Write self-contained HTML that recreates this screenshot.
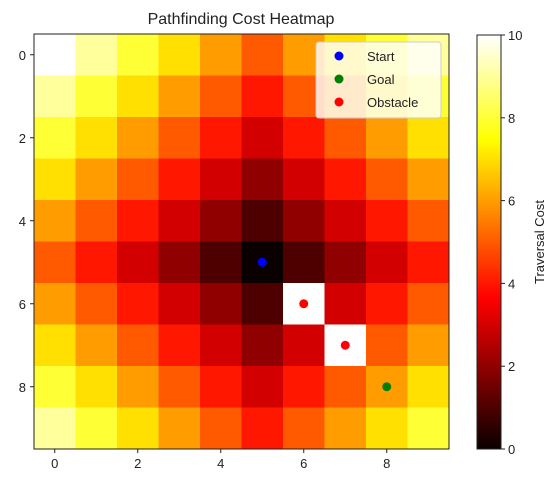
<!DOCTYPE html>
<html><head><meta charset="utf-8"><style>
body{margin:0;background:#fff;}
svg text{font-family:"Liberation Sans","DejaVu Sans",sans-serif;fill:#222;}
</style></head><body>
<svg id="chart" width="560" height="486" xmlns="http://www.w3.org/2000/svg">
<defs><linearGradient id="hotgrad" x1="0" y1="1" x2="0" y2="0">
<stop offset="0" stop-color="#0a0000"/><stop offset="0.365" stop-color="#ff0000"/><stop offset="0.746" stop-color="#ffff00"/><stop offset="1" stop-color="#ffffff"/>
</linearGradient></defs>
<text x="241" y="24" font-size="16" text-anchor="middle">Pathfinding Cost Heatmap</text>
<g id="cells"></g>
<rect x="34" y="34" width="415" height="415" fill="none" stroke="#222" stroke-width="1"/>
<g id="axes"></g>
<g id="points"></g>
<g>
<rect x="316" y="42" width="125" height="76" rx="3" fill="#fff" fill-opacity="0.8" stroke="#ccc"/>
<circle cx="339" cy="56" r="4.5" fill="#0000ff"/>
<text x="367" y="61" font-size="13">Start</text>
<circle cx="339" cy="79" r="4.5" fill="#008000"/>
<text x="367" y="84" font-size="13">Goal</text>
<circle cx="339" cy="102" r="4.5" fill="#ff0000"/>
<text x="367" y="107" font-size="13">Obstacle</text>
</g>
<rect x="477" y="35" width="24" height="414" fill="url(#hotgrad)" stroke="#222" stroke-width="1"/>
<g id="cbticks"></g>
<text transform="translate(544,242) rotate(-90)" font-size="13" text-anchor="middle">Traversal Cost</text>
</svg>
<script>
const costGrid = [
[10,9,8,7,6,5,6,7,8,9],
[9,8,7,6,5,4,5,6,7,8],
[8,7,6,5,4,3,4,5,6,7],
[7,6,5,4,3,2,3,4,5,6],
[6,5,4,3,2,1,2,3,4,5],
[5,4,3,2,1,0,1,2,3,4],
[6,5,4,3,2,1,10,3,4,5],
[7,6,5,4,3,2,3,10,5,6],
[8,7,6,5,4,3,4,5,6,7],
[9,8,7,6,5,4,5,6,7,8]
];
const startPt = [5,5];
const goalPt = [8,8];
const obstacles = [[6,6],[7,7]];
const axisTicks = [0,2,4,6,8];
const cbTicks = [0,2,4,6,8,10];
const vmin=0, vmax=10;
const X0=34, Y0=34, CELL=41.5, N=10;
const CB_TOP=35, CB_BOT=449;
const ns="http://www.w3.org/2000/svg";
function xs(c){return X0+(c+0.5)*CELL;}
function ys(r){return Y0+(r+0.5)*CELL;}
function cbY(v){return CB_BOT-(v-vmin)/(vmax-vmin)*(CB_BOT-CB_TOP);}
function hot(v){
 const t=Math.max(0,Math.min(1,(v-vmin)/(vmax-vmin)));
 const r=Math.min(1,0.0416+t/0.365079*(1-0.0416));
 const g=Math.max(0,Math.min(1,(t-0.365079)/(0.746032-0.365079)));
 const b=Math.max(0,Math.min(1,(t-0.746032)/(1-0.746032)));
 return `rgb(${Math.round(r*255)},${Math.round(g*255)},${Math.round(b*255)})`;
}
function mk(tag,attrs,parent){const e=document.createElementNS(ns,tag);for(const k in attrs)e.setAttribute(k,attrs[k]);parent.appendChild(e);return e;}
const cells=document.getElementById('cells');
costGrid.forEach((row,r)=>row.forEach((v,c)=>{
 const e=mk('rect',{x:X0+c*CELL,y:Y0+r*CELL,width:CELL+0.5,height:CELL+0.5,fill:hot(v)},cells);
 
 
}));
const axes=document.getElementById('axes');
axisTicks.forEach(t=>{
 const l1=mk('line',{x1:xs(t),x2:xs(t),y1:449,y2:453,stroke:'#222'},axes);
 
 
 const t1=mk('text',{x:xs(t),y:468,'font-size':13,'text-anchor':'middle'},axes);t1.textContent=t;
 
 
 const l2=mk('line',{x1:30,x2:34,y1:ys(t),y2:ys(t),stroke:'#222'},axes);
 
 
 const t2=mk('text',{x:26,y:ys(t)+5,'font-size':13,'text-anchor':'end'},axes);t2.textContent=t;
 
 
});
const cbt=document.getElementById('cbticks');
cbTicks.forEach(t=>{
 const l=mk('line',{x1:501,x2:505,y1:cbY(t),y2:cbY(t),stroke:'#222'},cbt);
 
 
 const tx=mk('text',{x:508,y:cbY(t)+5,'font-size':13},cbt);tx.textContent=t;
 
 
});
const pts=document.getElementById('points');
const s=mk('circle',{cx:xs(startPt[1]),cy:ys(startPt[0]),r:4.5,fill:'#0000ff'},pts);


const g=mk('circle',{cx:xs(goalPt[1]),cy:ys(goalPt[0]),r:4.5,fill:'#008000'},pts);


obstacles.forEach(o=>{
 const e=mk('circle',{cx:xs(o[1]),cy:ys(o[0]),r:4.5,fill:'#ff0000'},pts);
 
 
});
</script>
</body></html>
